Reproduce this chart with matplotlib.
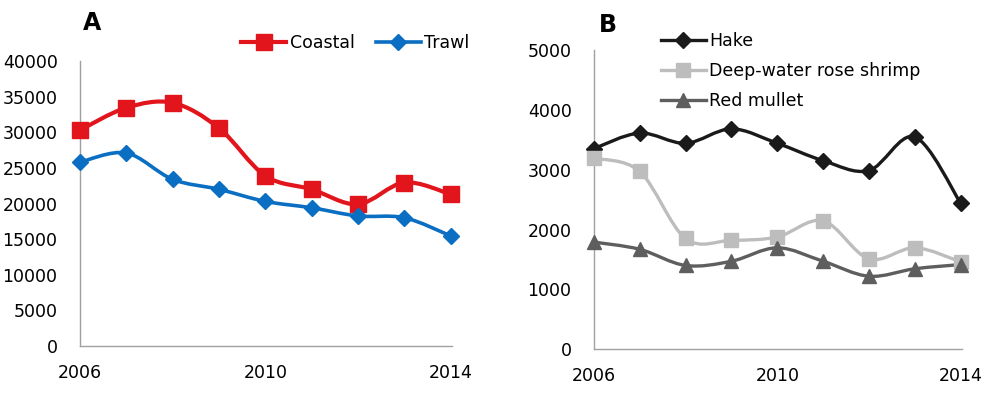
import numpy as np
import matplotlib.pyplot as plt
from matplotlib.path import Path
from matplotlib.patches import PathPatch
from matplotlib.lines import Line2D

# Données
years = [2006, 2007, 2008, 2009, 2010, 2011, 2012, 2013, 2014]
coastal = [30300, 33450, 34150, 30600, 23900, 22000, 19900, 22950, 21300]
trawl = [25800, 27100, 23400, 22000, 20300, 19400, 18250, 18000, 15450]

hake = [3350, 3610, 3440, 3680, 3440, 3150, 2985, 3545, 2440]
shrimp = [3190, 2970, 1850, 1820, 1875, 2145, 1510, 1695, 1460]
mullet = [1790, 1670, 1400, 1470, 1695, 1470, 1220, 1345, 1415]

year_ticks = [2006, 2010, 2014]

plt.rcParams['font.family'] = ['DejaVu Sans']
TICK_FS = 12.5
AXIS_GRAY = '#A0A0A0'


def smooth_path(x, y):
    # courbe de Bézier type "ligne lissée" d'Excel (Catmull-Rom)
    x = np.asarray(x, float)
    y = np.asarray(y, float)
    pts = np.column_stack([x, y])
    verts = [pts[0]]
    codes = [Path.MOVETO]
    n = len(pts)
    for i in range(n - 1):
        p0 = pts[i - 1] if i > 0 else pts[i]
        p1 = pts[i]
        p2 = pts[i + 1]
        p3 = pts[i + 2] if i + 2 < n else pts[i + 1]
        c1 = p1 + (p2 - p0) / 6.0
        c2 = p2 - (p3 - p1) / 6.0
        verts += [c1, c2, p2]
        codes += [Path.CURVE4] * 3
    return Path(verts, codes)


def draw_series(ax, x, y, color, lw, marker, ms, label):
    patch = PathPatch(smooth_path(x, y), facecolor='none', edgecolor=color,
                      lw=lw, clip_on=False, zorder=2, capstyle='round',
                      joinstyle='round')
    ax.add_patch(patch)
    ax.plot(x, y, ls='none', marker=marker, ms=ms, color=color,
            clip_on=False, zorder=3)
    return Line2D([], [], color=color, lw=lw, marker=marker, ms=ms, label=label)


def style_axes(ax, ymax, ystep):
    ax.set_xlim(2006, 2014.03)
    ax.set_ylim(0, ymax)
    ax.set_xticks(year_ticks)
    ax.set_yticks(np.arange(0, ymax + 1, ystep))
    ax.tick_params(axis='both', length=0, labelsize=TICK_FS)
    ax.tick_params(axis='x', pad=13)
    ax.tick_params(axis='y', pad=16)
    for s in ['top', 'right']:
        ax.spines[s].set_visible(False)
    for s in ['left', 'bottom']:
        ax.spines[s].set_color(AXIS_GRAY)
        ax.spines[s].set_linewidth(1.0)


fig = plt.figure(figsize=(9.98, 4.05), dpi=100)

# Panneau A
axA = fig.add_axes([0.080, 0.146, 0.373, 0.703])
hA = [
    draw_series(axA, years, coastal, '#E3151C', 3.0, 's', 12, 'Coastal'),
    draw_series(axA, years, trawl, '#0A6FC2', 2.6, 'D', 8, 'Trawl'),
]
style_axes(axA, 40000, 5000)
axA.legend(handles=hA, ncol=2, frameon=False, fontsize=TICK_FS, numpoints=1,
           handlelength=2.6, handletextpad=0.2, columnspacing=1.2,
           loc='center', bbox_to_anchor=(0.74, 1.063))
fig.text(0.092, 0.943, 'A', fontsize=17, fontweight='bold', ha='center', va='center')

# Panneau B
axB = fig.add_axes([0.595, 0.1375, 0.369, 0.7395])
hB = [
    draw_series(axB, years, hake, '#1A1A1A', 2.4, 'D', 8, 'Hake'),
    draw_series(axB, years, shrimp, '#BDBDBD', 2.4, 's', 10, 'Deep-water rose shrimp'),
    draw_series(axB, years, mullet, '#5E5E5E', 2.4, '^', 10, 'Red mullet'),
]
style_axes(axB, 5000, 1000)
axB.legend(handles=hB, frameon=False, fontsize=TICK_FS, numpoints=1,
           handlelength=2.6, handletextpad=0.2, labelspacing=0.68,
           loc='upper left', bbox_to_anchor=(0.139, 1.11))
fig.text(0.609, 0.938, 'B', fontsize=17, fontweight='bold', ha='center', va='center')

plt.savefig('out.png', dpi=100)
